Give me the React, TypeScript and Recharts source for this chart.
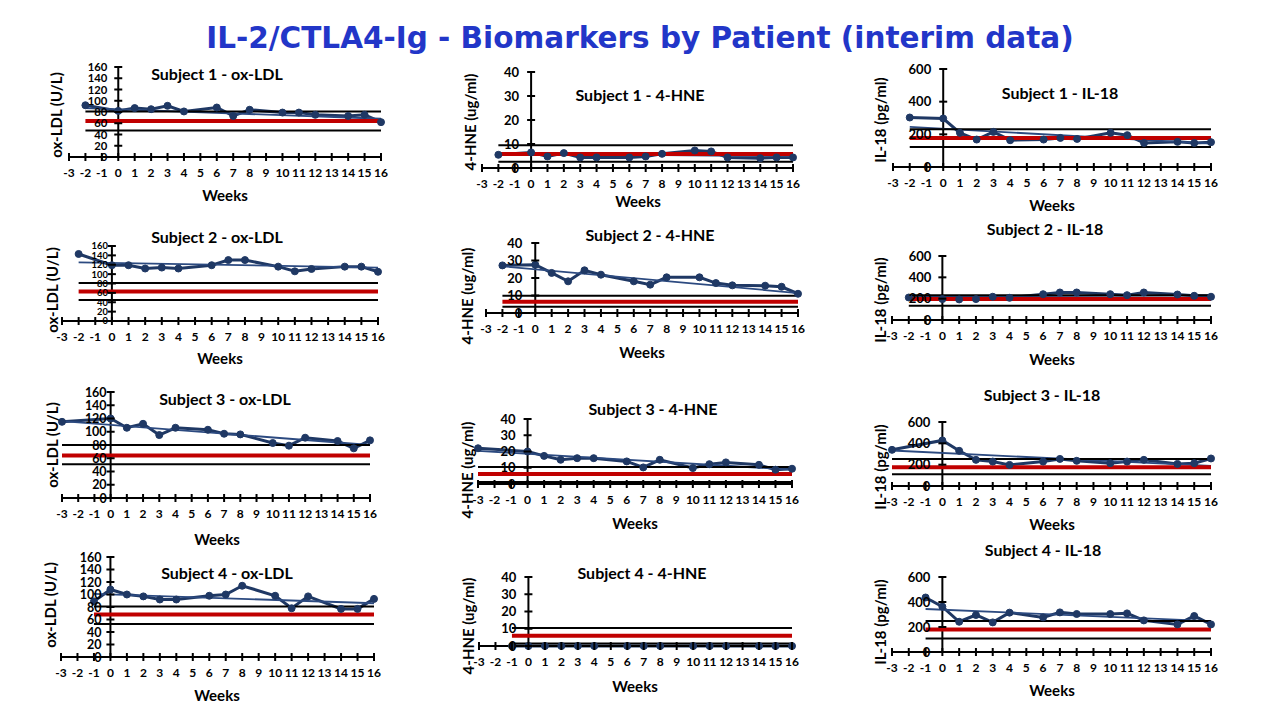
import { LineChart, Line, XAxis, YAxis, ReferenceLine } from 'recharts';

// weeks sampled per subject
const weeksS1 = [-2, 0, 1, 2, 3, 4, 6, 7, 8, 10, 11, 12, 14, 15, 16];
const weeksS2 = [-2, 0, 1, 2, 3, 4, 6, 7, 8, 10, 11, 12, 14, 15, 16];
const weeksS3 = [-3, 0, 1, 2, 3, 4, 6, 7, 8, 10, 11, 12, 14, 15, 16];
const weeksS4 = [-1, 0, 1, 2, 3, 4, 6, 7, 8, 10, 11, 12, 14, 15, 16];

const weekTicks = [-3, -2, -1, 0, 1, 2, 3, 4, 5, 6, 7, 8, 9, 10, 11, 12, 13, 14, 15, 16];
const oxLdlTicks = [0, 20, 40, 60, 80, 100, 120, 140, 160];
const hneTicks = [0, 10, 20, 30, 40];
const il18Ticks = [0, 200, 400, 600];

// measured values
const oxLdlS1 = [92, 82, 87, 85, 91, 81, 88, 73, 84, 79, 79, 75, 73, 75, 62];
const hneS1 = [5.5, 6.5, 4.8, 6.2, 4.4, 4.4, 4.4, 4.8, 5.9, 7.3, 6.9, 4.4, 4.1, 4.4, 4.4];
const il18S1 = [303, 297, 209, 168, 215, 164, 168, 178, 172, 209, 195, 147, 154, 147, 152];

const oxLdlS2 = [143, 119, 119, 112, 114, 112, 119, 130, 130, 116, 106, 111, 116, 116, 105];
const hneS2 = [27.2, 27.6, 22.9, 18.1, 24.4, 21.9, 18.1, 16.2, 20.4, 20.4, 17.1, 15.8, 15.6, 15, 11];
const il18S2 = [211, 196, 193, 196, 218, 208, 242, 258, 258, 242, 233, 258, 239, 227, 218];

const oxLdlS3 = [115, 120, 106, 112, 95, 106, 103, 97, 96, 83, 79, 91, 86, 75, 87];
const hneS3 = [22, 20, 17.3, 14.9, 15.9, 15.9, 13.9, 10.2, 14.9, 9.8, 12.2, 13.3, 11.8, 8.8, 9.4];
const il18S3 = [339, 427, 330, 245, 229, 198, 229, 254, 236, 214, 229, 245, 207, 214, 258];

const oxLdlS4 = [89, 108, 100, 97, 92, 92, 98, 100, 114, 98, 78, 97, 77, 77, 93];
const hneS4 = [0, 0, 0, 0, 0, 0, 0, 0, 0, 0, 0, 0, 0, 0, 0];
const il18S4 = [436, 363, 242, 296, 237, 315, 277, 317, 304, 304, 309, 253, 221, 288, 221];

// linear trend, value at first week and at week 16
const trendOxLdl = [[87, 68], [125, 114], [116, 80], [101, 86]];
const trendHne = [[6.0, 4.9], [26.7, 11.4], [20.4, 8.8], [0, 0]];
const trendIl18 = [[246, 143], [220, 232], [333, 188], [344, 247]];

// normal range (upper, lower) and control mean
const rangeOxLdl = [[81, 47], [81, 45], [80, 51], [81, 53]];
const meanOxLdl = [64, 63, 64, 68];
const rangeHne = [[9.5, 2.6], [9.9, 3.6], [10.4, 1.2], [10.4, 1.5]];
const meanHne = [5.8, 6.5, 6.1, 6];
const rangeIl18 = [[231, 123], [233, 134], [252, 110], [248, 108]];
const meanIl18 = [178, 196, 176, 181];

const NAVY = '#1F3864';
const TREND = '#2C4A80';
const RED = '#C00000';
const FONT = 'Lato, "Open Sans", sans-serif';
const X_MIN = -3;
const X_MAX = 16;
// outer padding around each plot area; the axes take 1px of it
const M = { top: 8, right: 10, bottom: 26, left: 14 };
const AXIS = 1;

type Box = {
  x0: number; x1: number; yTop: number; yBot: number;
  title: [number, number]; weeks: [number, number]; ylab: [number, number]; gap: number;
};

type Panel = {
  title: string;
  yLabel: string;
  yTicks: number[];
  weeks: number[];
  values: number[];
  trend: number[];
  range: number[];
  mean: number;
  box: Box;
};

const weeksBySubject = [weeksS1, weeksS2, weeksS3, weeksS4];
const oxLdlBySubject = [oxLdlS1, oxLdlS2, oxLdlS3, oxLdlS4];
const hneBySubject = [hneS1, hneS2, hneS3, hneS4];
const il18BySubject = [il18S1, il18S2, il18S3, il18S4];

// plot boxes: [ox-LDL, 4-HNE, IL-18] per row
const boxes: Box[][] = [
  [
    { x0: 69, x1: 381, yTop: 67, yBot: 157, title: [217, 74], weeks: [225, 195], ylab: [56, 115], gap: 11 },
    { x0: 482, x1: 793, yTop: 72, yBot: 168, title: [640, 95], weeks: [638, 201], ylab: [470, 122], gap: 12 },
    { x0: 893, x1: 1211, yTop: 69, yBot: 167, title: [1060, 93], weeks: [1052, 205], ylab: [880, 120], gap: 12 },
  ],
  [
    { x0: 62, x1: 378, yTop: 246, yBot: 321, title: [217, 237], weeks: [220, 358], ylab: [52, 290], gap: 4 },
    { x0: 486, x1: 798, yTop: 243, yBot: 313, title: [650, 235], weeks: [642, 352], ylab: [467, 296], gap: 13 },
    { x0: 892, x1: 1211, yTop: 256, yBot: 320, title: [1045, 229], weeks: [1052, 359], ylab: [880, 300], gap: 11 },
  ],
  [
    { x0: 62, x1: 370, yTop: 392, yBot: 498, title: [225, 399], weeks: [217, 539], ylab: [52, 445], gap: 4 },
    { x0: 478, x1: 792, yTop: 419, yBot: 484, title: [653, 409], weeks: [635, 523], ylab: [467, 470], gap: 12 },
    { x0: 892, x1: 1211, yTop: 422, yBot: 486, title: [1042, 395], weeks: [1052, 524], ylab: [880, 467], gap: 12 },
  ],
  [
    { x0: 61, x1: 374, yTop: 557, yBot: 657, title: [227, 573], weeks: [217, 695], ylab: [50, 605], gap: 9 },
    { x0: 479, x1: 792, yTop: 577, yBot: 646, title: [642, 573], weeks: [635, 686], ylab: [468, 626], gap: 12 },
    { x0: 892, x1: 1211, yTop: 577, yBot: 652, title: [1043, 550], weeks: [1052, 690], ylab: [880, 622], gap: 12 },
  ],
];

const panels: Panel[] = [];
for (let s = 0; s < 4; s++) {
  const n = s + 1;
  panels.push({
    title: `Subject ${n} - ox-LDL`, yLabel: 'ox-LDL (U/L)', yTicks: oxLdlTicks,
    weeks: weeksBySubject[s], values: oxLdlBySubject[s], trend: trendOxLdl[s],
    range: rangeOxLdl[s], mean: meanOxLdl[s], box: boxes[s][0],
  });
  panels.push({
    title: `Subject ${n} - 4-HNE`, yLabel: '4-HNE (ug/ml)', yTicks: hneTicks,
    weeks: weeksBySubject[s], values: hneBySubject[s], trend: trendHne[s],
    range: rangeHne[s], mean: meanHne[s], box: boxes[s][1],
  });
  panels.push({
    title: `Subject ${n} - IL-18`, yLabel: 'IL-18 (pg/ml)', yTicks: il18Ticks,
    weeks: weeksBySubject[s], values: il18BySubject[s], trend: trendIl18[s],
    range: rangeIl18[s], mean: meanIl18[s], box: boxes[s][2],
  });
}

const textStyle = {
  position: 'absolute' as const,
  fontFamily: FONT,
  fontWeight: 700,
  color: '#000',
  whiteSpace: 'nowrap' as const,
  lineHeight: 1,
};

function BiomarkerPanel({ p }: { p: Panel }) {
  const b = p.box;
  const plotW = b.x1 - b.x0;
  const plotH = b.yBot - b.yTop;
  const width = plotW + M.left + M.right;
  const height = plotH + M.top + M.bottom;
  const zeroX = M.left + ((0 - X_MIN) / (X_MAX - X_MIN)) * plotW;
  const axisY = M.top + plotH;
  const yMax = p.yTicks[p.yTicks.length - 1];
  const first = p.weeks[0];
  // tick labels shrink to the tick spacing when the value axis is packed tight
  const spacing = plotH / (p.yTicks.length - 1);
  const yFont = spacing >= 14 ? 13 : Math.min(12.5, spacing);

  const series = p.weeks.map((week, i) => ({ week, value: p.values[i] }));
  const trend = [
    { week: first, value: p.trend[0] },
    { week: X_MAX, value: p.trend[1] },
  ];
  const span = (v: number) => [{ x: first, y: v }, { x: X_MAX, y: v }];

  const xTick = (props: any) => (
    <g>
      <line x1={props.x} x2={props.x} y1={axisY - 4} y2={axisY + 4} stroke="#000" strokeWidth={2} />
      <text x={props.x} y={axisY + 20} textAnchor="middle" fontSize={12} fontWeight={700} fontFamily={FONT} fill="#000">
        {props.payload.value}
      </text>
    </g>
  );

  const yTick = (props: any) => (
    <g>
      <line x1={zeroX - 4} x2={zeroX + 4} y1={props.y} y2={props.y} stroke="#000" strokeWidth={2} />
      <text x={zeroX - b.gap} y={props.y} dy="0.36em" textAnchor="end" fontSize={yFont} fontWeight={700} fontFamily={FONT} fill="#000">
        {props.payload.value}
      </text>
    </g>
  );

  return (
    <>
      <div style={{ position: 'absolute', left: b.x0 - M.left, top: b.yTop - M.top }}>
        <LineChart
          width={width}
          height={height}
          margin={{ top: M.top, right: M.right, bottom: M.bottom - AXIS, left: M.left - AXIS }}
        >
          <XAxis
            type="number"
            dataKey="week"
            domain={[X_MIN, X_MAX]}
            ticks={weekTicks}
            interval={0}
            height={AXIS}
            axisLine={{ stroke: '#000', strokeWidth: 2 }}
            tickLine={false}
            tick={xTick}
          />
          <YAxis
            type="number"
            dataKey="value"
            domain={[0, yMax]}
            ticks={p.yTicks}
            interval={0}
            width={AXIS}
            axisLine={false}
            tickLine={false}
            tick={yTick}
          />
          <ReferenceLine x={0} stroke="#000" strokeWidth={2} />
          <Line
            data={series}
            dataKey="value"
            stroke={NAVY}
            strokeWidth={3}
            dot={{ r: 3.5, fill: NAVY, stroke: NAVY, strokeWidth: 1 }}
            isAnimationActive={false}
          />
          <Line
            data={trend}
            dataKey="value"
            stroke={TREND}
            strokeWidth={1.8}
            dot={false}
            isAnimationActive={false}
          />
          <ReferenceLine segment={span(p.range[0])} stroke="#000" strokeWidth={2} />
          <ReferenceLine segment={span(p.range[1])} stroke="#000" strokeWidth={2} />
          <ReferenceLine segment={span(p.mean)} stroke={RED} strokeWidth={4} />
        </LineChart>
      </div>
      <div style={{ ...textStyle, left: b.title[0], top: b.title[1], fontSize: 16, transform: 'translate(-50%, -50%)' }}>
        {p.title}
      </div>
      <div style={{ ...textStyle, left: b.weeks[0], top: b.weeks[1], fontSize: 15, transform: 'translate(-50%, -50%)' }}>
        Weeks
      </div>
      <div style={{ ...textStyle, left: b.ylab[0], top: b.ylab[1], fontSize: 15, transform: 'translate(-50%, -50%) rotate(-90deg)' }}>
        {p.yLabel}
      </div>
    </>
  );
}

export default function App() {
  return (
    <div style={{ position: 'absolute', left: 0, top: 0, width: 1280, height: 720, background: '#fff', overflow: 'hidden' }}>
      <div
        style={{
          ...textStyle,
          left: 640,
          top: 39,
          transform: 'translate(-50%, -50%)',
          fontFamily: '"DejaVu Sans", sans-serif',
          fontSize: 29.5,
          color: '#2236C8',
        }}
      >
        IL-2/CTLA4-Ig - Biomarkers by Patient (interim data)
      </div>
      {panels.map((p) => (
        <BiomarkerPanel key={p.title} p={p} />
      ))}
    </div>
  );
}
